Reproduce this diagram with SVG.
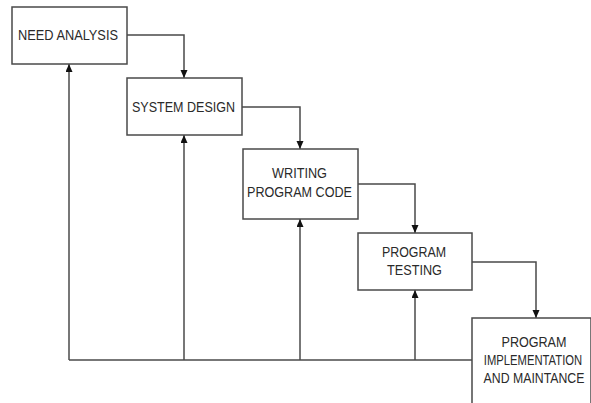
<svg xmlns="http://www.w3.org/2000/svg" width="591" height="403" viewBox="0 0 591 403">
<style>
.box{fill:#fff;stroke:#4a4a4a;stroke-width:1.5}
.lbl{font-family:"Liberation Sans",Arial,sans-serif;font-size:15px;fill:#2a2a2a;text-anchor:middle}
.con{fill:none;stroke:#4a4a4a;stroke-width:1.5}
</style>
<defs>
<marker id="ah" markerUnits="userSpaceOnUse" markerWidth="9" markerHeight="8" refX="8" refY="3.5" orient="auto">
<path d="M0,0 L8,3.5 L0,7 z" fill="#111"/>
</marker>
</defs>
<rect width="591" height="403" fill="#fff"/>
<g id="connectors">
<path class="con" d="M127,35 H184 V78" marker-end="url(#ah)"/>
<path class="con" d="M242,107 H300 V149" marker-end="url(#ah)"/>
<path class="con" d="M358,184 H415 V233" marker-end="url(#ah)"/>
<path class="con" d="M472,262 H536 V318" marker-end="url(#ah)"/>
<path class="con" d="M69,360 H472"/>
<path class="con" d="M69,360 V64" marker-end="url(#ah)"/>
<path class="con" d="M184,360 V135" marker-end="url(#ah)"/>
<path class="con" d="M300,360 V219" marker-end="url(#ah)"/>
<path class="con" d="M415,360 V290" marker-end="url(#ah)"/>
</g>
<g id="need-analysis">
<rect class="box" x="12" y="7" width="115" height="57"/>
<text class="lbl" x="68" y="40" textLength="100" lengthAdjust="spacingAndGlyphs">NEED ANALYSIS</text>
</g>
<g id="system-design">
<rect class="box" x="127" y="78" width="115" height="57"/>
<text class="lbl" x="183.5" y="112" textLength="103" lengthAdjust="spacingAndGlyphs">SYSTEM DESIGN</text>
</g>
<g id="writing-program-code">
<rect class="box" x="243" y="149" width="115" height="70"/>
<text class="lbl" x="299.5" y="178" textLength="55" lengthAdjust="spacingAndGlyphs">WRITING</text>
<text class="lbl" x="299.5" y="197" textLength="105" lengthAdjust="spacingAndGlyphs">PROGRAM CODE</text>
</g>
<g id="program-testing">
<rect class="box" x="358" y="233" width="114" height="57"/>
<text class="lbl" x="414" y="257" textLength="64" lengthAdjust="spacingAndGlyphs">PROGRAM</text>
<text class="lbl" x="414.5" y="275" textLength="55" lengthAdjust="spacingAndGlyphs">TESTING</text>
</g>
<g id="program-implementation">
<rect class="box" x="472" y="318" width="119" height="90"/>
<text class="lbl" x="534" y="347" textLength="65" lengthAdjust="spacingAndGlyphs">PROGRAM</text>
<text class="lbl" transform="translate(533,365) scale(0.75,1)" x="0" y="0">IMPLEMENTATION</text>
<text class="lbl" transform="translate(534,383) scale(0.82,1)" x="0" y="0">AND MAINTANCE</text>
</g>
</svg>
